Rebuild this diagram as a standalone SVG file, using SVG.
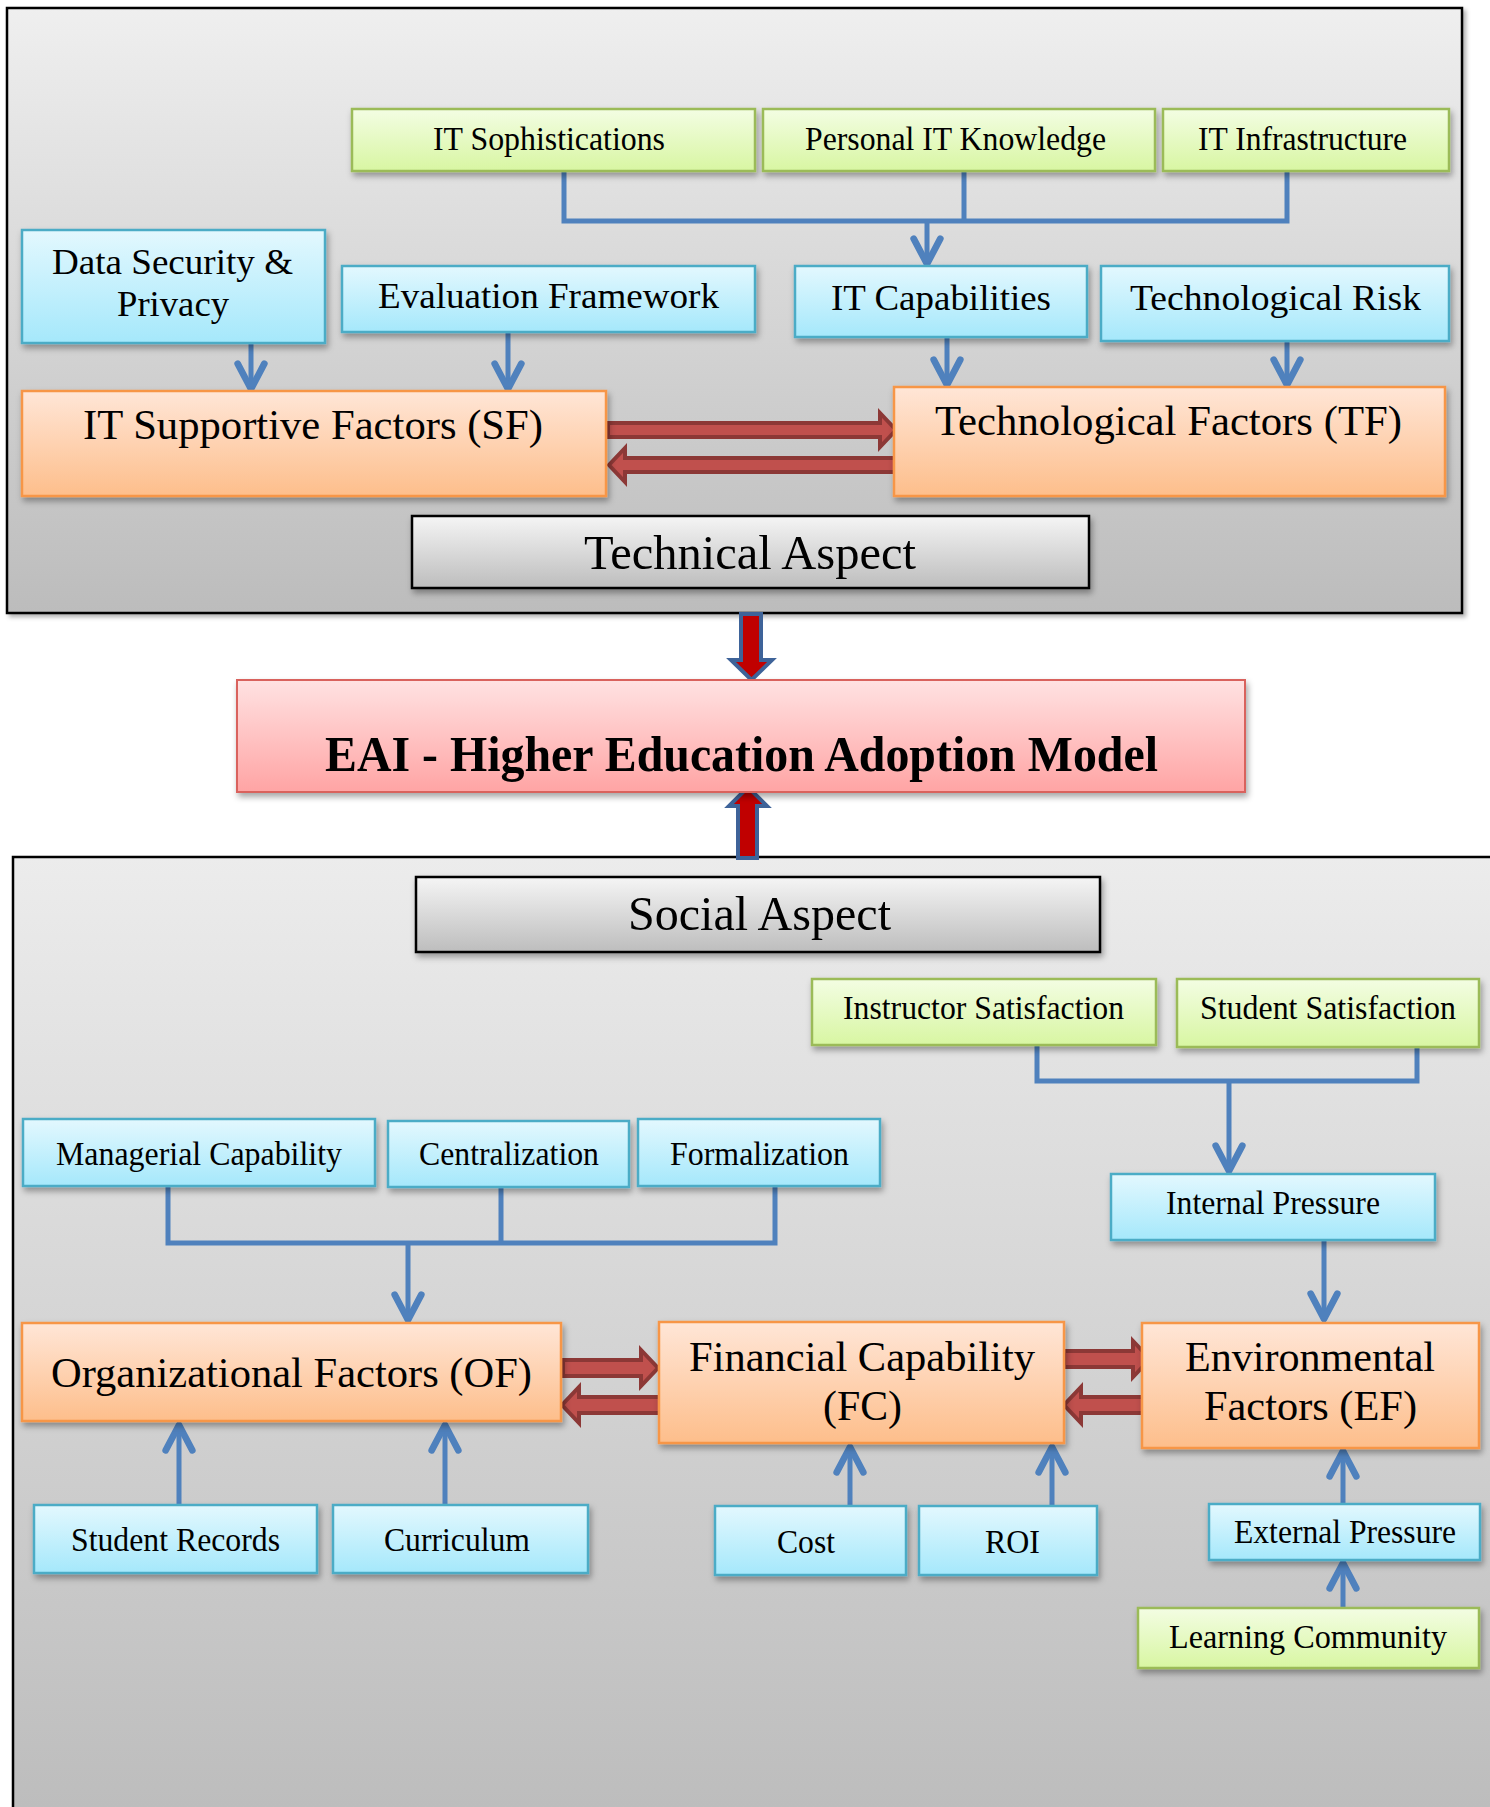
<svg xmlns="http://www.w3.org/2000/svg" width="1490" height="1807" viewBox="0 0 1490 1807" font-family="'Liberation Serif', 'Times New Roman', serif">
<defs>
<linearGradient id="gPanelTop" x1="0" y1="0" x2="0" y2="1"><stop offset="0" stop-color="#efefef"/><stop offset="1" stop-color="#bcbcbc"/></linearGradient>
<linearGradient id="gPanelBot" gradientUnits="userSpaceOnUse" x1="0" y1="857" x2="0" y2="1807"><stop offset="0" stop-color="#ececec"/><stop offset="1" stop-color="#bdbdbd"/></linearGradient>
<linearGradient id="gGreen" x1="0" y1="0" x2="0" y2="1"><stop offset="0" stop-color="#f3fde3"/><stop offset="1" stop-color="#d8f6a2"/></linearGradient>
<linearGradient id="gBlue" x1="0" y1="0" x2="0" y2="1"><stop offset="0" stop-color="#e3f8fe"/><stop offset="1" stop-color="#a5e8fb"/></linearGradient>
<linearGradient id="gOrange" x1="0" y1="0" x2="0" y2="1"><stop offset="0" stop-color="#ffe6d7"/><stop offset="1" stop-color="#fdbe8b"/></linearGradient>
<linearGradient id="gPink" x1="0" y1="0" x2="0" y2="1"><stop offset="0" stop-color="#ffe2e2"/><stop offset="1" stop-color="#ffa4a4"/></linearGradient>
<linearGradient id="gGray" x1="0" y1="0" x2="0" y2="1"><stop offset="0" stop-color="#f5f5f5"/><stop offset="1" stop-color="#bdbdbd"/></linearGradient>
<filter id="shadow" x="-10%" y="-20%" width="120%" height="150%"><feDropShadow dx="2" dy="4" stdDeviation="3" flood-color="#000" flood-opacity="0.35"/></filter>
<filter id="pshadow" x="-2%" y="-2%" width="104%" height="104%"><feDropShadow dx="3" dy="3" stdDeviation="2" flood-color="#000" flood-opacity="0.3"/></filter>
<marker id="chev" markerUnits="userSpaceOnUse" markerWidth="40" markerHeight="40" refX="0" refY="0" orient="auto" overflow="visible" viewBox="-25 -15 30 30">
<path d="M-19,-10 L0,0 L-19,10" fill="none" stroke="#4f81bd" stroke-width="5" stroke-linecap="round" stroke-linejoin="round"/>
</marker>
<style>
text{font-family:"Liberation Serif","Times New Roman",serif;fill:#000;text-anchor:middle}
.green{fill:url(#gGreen);stroke:#9bbb59;stroke-width:2.5;filter:url(#shadow)}
.blue{fill:url(#gBlue);stroke:#4bacc6;stroke-width:2.5;filter:url(#shadow)}
.orange{fill:url(#gOrange);stroke:#f79646;stroke-width:2.5;filter:url(#shadow)}
.pink{fill:url(#gPink);stroke:#d9625d;stroke-width:2;filter:url(#shadow)}
.gray{fill:url(#gGray);stroke:#000;stroke-width:2.5;filter:url(#shadow)}
.conn{fill:none;stroke:#4f81bd;stroke-width:5;stroke-linejoin:miter}
.arr{marker-end:url(#chev)}
.red{fill:#c0504d;stroke:#8c3836;stroke-width:4;stroke-linejoin:miter}
.main{fill:#c00000;stroke:#3e6399;stroke-width:4}
.s30{font-size:33px}.s32{font-size:33px}.s36{font-size:36px}.s35{font-size:35px}.s42{font-size:42px}.s47{font-size:48px}
.eai{font-size:50px;font-weight:bold}
</style>
</defs>

<rect width="1490" height="1807" fill="#ffffff"/>

<!-- panels -->
<rect id="panel-technical" x="7" y="8" width="1455" height="605" fill="url(#gPanelTop)" stroke="#000" stroke-width="2.5" filter="url(#pshadow)"/>
<rect id="panel-social" x="13" y="857" width="1490" height="960" fill="url(#gPanelBot)" stroke="#000" stroke-width="2.5"/>

<!-- connectors -->
<g id="connectors">
<path class="conn" d="M564,171 V221 H1287 V171"/>
<path class="conn" d="M964,171 V221"/>
<path class="conn arr" d="M927,221 V264"/>
<path class="conn arr" d="M251,343 V389"/>
<path class="conn arr" d="M508,332 V389"/>
<path class="conn arr" d="M947,337 V385"/>
<path class="conn arr" d="M1287,341 V385"/>

<path class="red" d="M608,423 H880 V413 L896,430 L880,447 V437 H608 Z"/>
<path class="red" d="M895,458 H625 V448 L609,465 L625,482 V472 H895 Z"/>

<path class="main" d="M741,614 V660 H731 L751.5,680 L772,660 H761 V614 Z"/>
<path class="main" d="M738,858 V806 H729 L748,787 L767,806 H757 V858 Z"/>

<path class="conn" d="M1037,1045 V1081 H1417 V1047"/>
<path class="conn arr" d="M1229,1081 V1171"/>
<path class="conn arr" d="M1324,1240 V1319"/>
<path class="conn" d="M168,1186 V1243 H775 V1186"/>
<path class="conn" d="M501,1187 V1243"/>
<path class="conn arr" d="M408,1243 V1320"/>

<path class="red" d="M563,1360 H641 V1350 L658,1368 L641,1386 V1376 H563 Z"/>
<path class="red" d="M662,1397 H579 V1387 L562,1405 L579,1423 V1413 H662 Z"/>
<path class="red" d="M1064,1351 H1133 V1341 L1150,1359 L1133,1377 V1367 H1064 Z"/>
<path class="red" d="M1148,1397 H1081 V1387 L1064,1405 L1081,1423 V1413 H1148 Z"/>

<path class="conn arr" d="M179,1505 V1425"/>
<path class="conn arr" d="M445,1505 V1425"/>
<path class="conn arr" d="M850,1506 V1447"/>
<path class="conn arr" d="M1052,1506 V1447"/>
<path class="conn arr" d="M1343,1504 V1451"/>
<path class="conn arr" d="M1343,1608 V1563"/>
</g>

<!-- top panel nodes -->
<g id="it-sophistications"><rect class="green" x="352" y="109" width="403" height="62"/><text class="s32" x="549" y="150" textLength="232" lengthAdjust="spacingAndGlyphs">IT Sophistications</text></g>
<g id="personal-it-knowledge"><rect class="green" x="763" y="109" width="392" height="62"/><text class="s32" x="955.5" y="150" textLength="301" lengthAdjust="spacingAndGlyphs">Personal IT Knowledge</text></g>
<g id="it-infrastructure"><rect class="green" x="1163" y="109" width="286" height="62"/><text class="s32" x="1302.5" y="150" textLength="209" lengthAdjust="spacingAndGlyphs">IT Infrastructure</text></g>

<g id="data-security"><rect class="blue" x="22" y="230" width="303" height="113"/><text class="s36" x="172.5" y="274" textLength="241" lengthAdjust="spacingAndGlyphs">Data Security &amp;</text><text class="s36" x="173" y="316" textLength="112" lengthAdjust="spacingAndGlyphs">Privacy</text></g>
<g id="evaluation-framework"><rect class="blue" x="342" y="266" width="413" height="66"/><text class="s35" x="548.5" y="308" textLength="341" lengthAdjust="spacingAndGlyphs">Evaluation Framework</text></g>
<g id="it-capabilities"><rect class="blue" x="795" y="266" width="292" height="71"/><text class="s36" x="941" y="310" textLength="220" lengthAdjust="spacingAndGlyphs">IT Capabilities</text></g>
<g id="technological-risk"><rect class="blue" x="1101" y="266" width="348" height="75"/><text class="s36" x="1275.5" y="310" textLength="291" lengthAdjust="spacingAndGlyphs">Technological Risk</text></g>

<g id="sf"><rect class="orange" x="22" y="391" width="584" height="105"/><text class="s42" x="313" y="439" textLength="460" lengthAdjust="spacingAndGlyphs">IT Supportive Factors (SF)</text></g>
<g id="tf"><rect class="orange" x="894" y="387" width="551" height="109"/><text class="s42" x="1168.5" y="435" textLength="467" lengthAdjust="spacingAndGlyphs">Technological Factors (TF)</text></g>

<g id="technical-aspect"><rect class="gray" x="412" y="516" width="677" height="72"/><text class="s47" x="750" y="569" textLength="332" lengthAdjust="spacingAndGlyphs">Technical Aspect</text></g>

<!-- central -->
<g id="eai-model"><rect class="pink" x="237" y="680" width="1008" height="112"/><text class="eai" x="741.5" y="771" textLength="833" lengthAdjust="spacingAndGlyphs">EAI - Higher Education Adoption Model</text></g>

<!-- bottom panel nodes -->
<g id="social-aspect"><rect class="gray" x="416" y="877" width="684" height="75"/><text class="s47" x="759.5" y="930" textLength="263" lengthAdjust="spacingAndGlyphs">Social Aspect</text></g>

<g id="instructor-satisfaction"><rect class="green" x="812" y="979" width="344" height="66"/><text class="s30" x="983.5" y="1019" textLength="281" lengthAdjust="spacingAndGlyphs">Instructor Satisfaction</text></g>
<g id="student-satisfaction"><rect class="green" x="1177" y="979" width="302" height="68"/><text class="s30" x="1328" y="1019" textLength="256" lengthAdjust="spacingAndGlyphs">Student Satisfaction</text></g>
<g id="internal-pressure"><rect class="blue" x="1111" y="1174" width="324" height="66"/><text class="s30" x="1273" y="1214" textLength="214" lengthAdjust="spacingAndGlyphs">Internal Pressure</text></g>

<g id="managerial-capability"><rect class="blue" x="23" y="1119" width="352" height="67"/><text class="s30" x="199" y="1165" textLength="286" lengthAdjust="spacingAndGlyphs">Managerial Capability</text></g>
<g id="centralization"><rect class="blue" x="388" y="1121" width="241" height="66"/><text class="s30" x="509" y="1165" textLength="180" lengthAdjust="spacingAndGlyphs">Centralization</text></g>
<g id="formalization"><rect class="blue" x="638" y="1119" width="242" height="67"/><text class="s30" x="759.5" y="1165" textLength="179" lengthAdjust="spacingAndGlyphs">Formalization</text></g>

<g id="of"><rect class="orange" x="22" y="1323" width="539" height="98"/><text class="s42" x="291.5" y="1387" textLength="481" lengthAdjust="spacingAndGlyphs">Organizational Factors (OF)</text></g>
<g id="fc"><rect class="orange" x="659" y="1322" width="405" height="121"/><text class="s42" x="862" y="1371" textLength="346" lengthAdjust="spacingAndGlyphs">Financial Capability</text><text class="s42" x="862.5" y="1420" textLength="79" lengthAdjust="spacingAndGlyphs">(FC)</text></g>
<g id="ef"><rect class="orange" x="1142" y="1323" width="337" height="125"/><text class="s42" x="1310" y="1371" textLength="250" lengthAdjust="spacingAndGlyphs">Environmental</text><text class="s42" x="1310.5" y="1420" textLength="213" lengthAdjust="spacingAndGlyphs">Factors (EF)</text></g>

<g id="student-records"><rect class="blue" x="34" y="1505" width="283" height="68"/><text class="s30" x="175.5" y="1551" textLength="209" lengthAdjust="spacingAndGlyphs">Student Records</text></g>
<g id="curriculum"><rect class="blue" x="333" y="1505" width="255" height="68"/><text class="s30" x="457" y="1551" textLength="146" lengthAdjust="spacingAndGlyphs">Curriculum</text></g>
<g id="cost"><rect class="blue" x="715" y="1506" width="191" height="69"/><text class="s30" x="806" y="1553" textLength="58" lengthAdjust="spacingAndGlyphs">Cost</text></g>
<g id="roi"><rect class="blue" x="919" y="1506" width="178" height="69"/><text class="s30" x="1012.5" y="1553" textLength="55" lengthAdjust="spacingAndGlyphs">ROI</text></g>
<g id="external-pressure"><rect class="blue" x="1209" y="1504" width="271" height="56"/><text class="s30" x="1345" y="1543" textLength="222" lengthAdjust="spacingAndGlyphs">External Pressure</text></g>
<g id="learning-community"><rect class="green" x="1138" y="1608" width="341" height="60"/><text class="s30" x="1308" y="1648" textLength="278" lengthAdjust="spacingAndGlyphs">Learning Community</text></g>
</svg>
